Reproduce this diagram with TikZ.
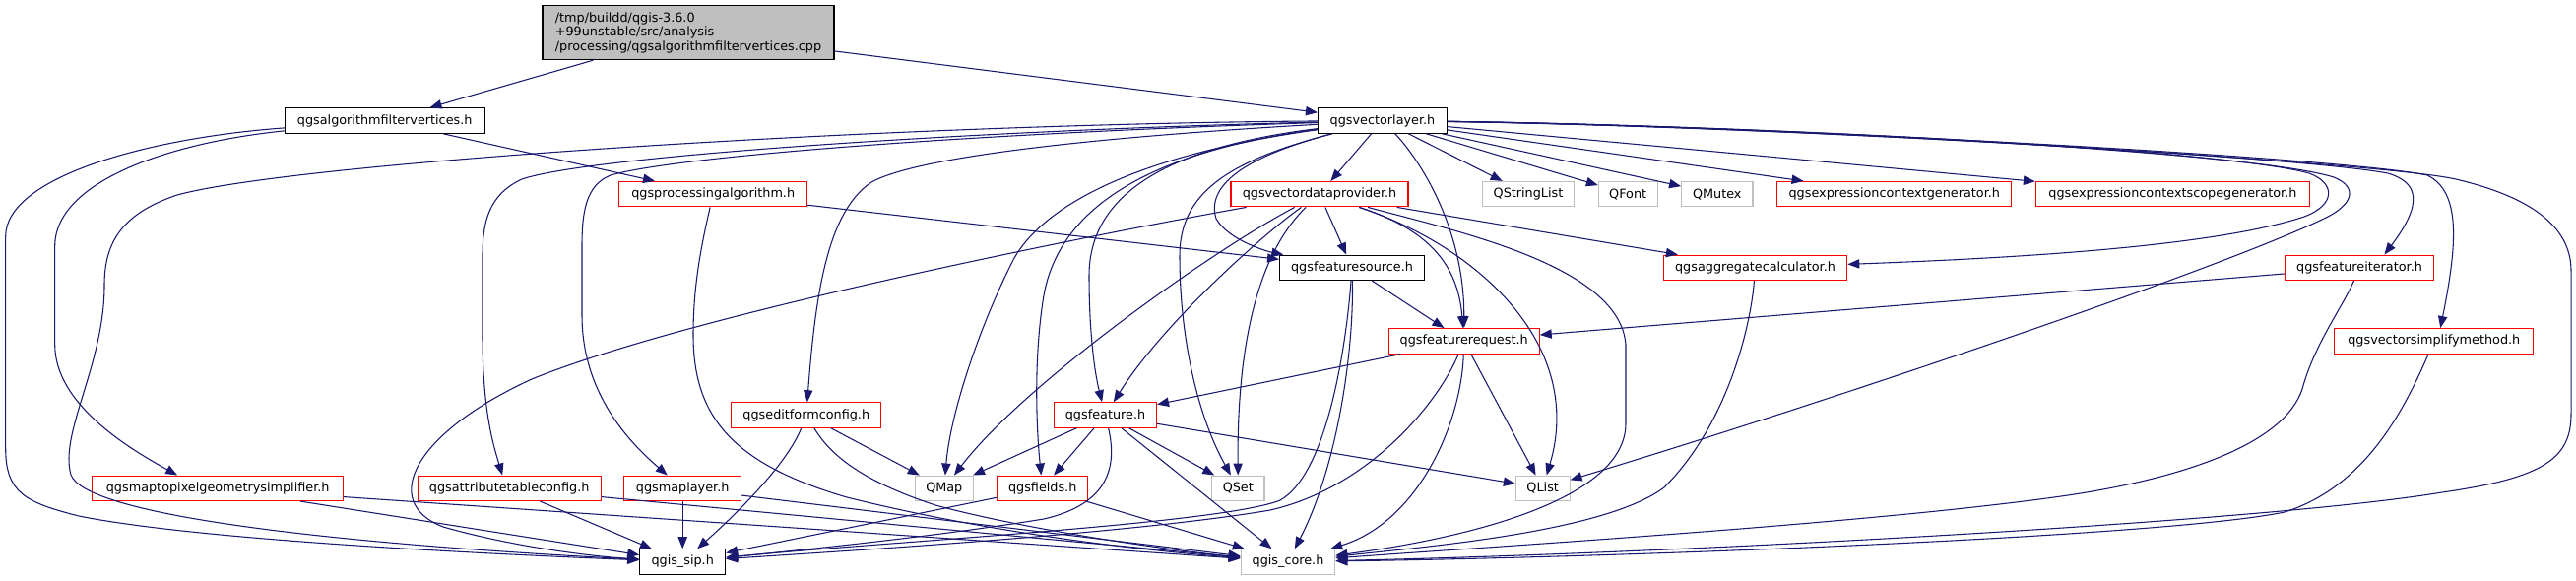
\documentclass[tikz,border=0pt]{standalone}
\usepackage{fontspec}
\setmainfont{DejaVu Sans}
\usetikzlibrary{arrows.meta,calc}
\definecolor{edgec}{HTML}{191970}
\definecolor{redb}{HTML}{FF0000}
\definecolor{greyb}{HTML}{BFBFBF}
\begin{document}
\begin{tikzpicture}[x=0.75pt,y=-0.75pt,
  box/.style={draw, line width=0.8pt, fill=white, minimum height=19.1pt, inner xsep=3pt, inner ysep=0pt, font=\fontsize{9.6}{11}\selectfont},
  docbox/.style={box, draw=black},
  redbox/.style={box, draw=redb},
  greybox/.style={box, draw=greyb},
  edge/.style={draw=edgec, line width=0.8pt, -{Triangle[length=9pt,width=7pt]}}]
\useasboundingbox (0,0) rectangle (2616,589);
\fill[white] (0,0) rectangle (2616,589);
% nodes
\node[docbox, fill=greyb, minimum width=222pt, minimum height=41.25pt, align=left] (cpp) at (699,33.2) {/tmp/buildd/qgis-3.6.0\\+99unstable/src/analysis\\/processing/qgsalgorithmfiltervertices.cpp};
\node[docbox, minimum width=152pt] (fv) at (390.7,122.5) {qgsalgorithmfiltervertices.h};
\node[docbox, minimum width=98.25pt] (vl) at (1404,122.5) {qgsvectorlayer.h};
\node[redbox, minimum width=143.25pt] (pa) at (724.2,197.2) {qgsprocessingalgorithm.h};
\node[redbox, minimum width=135pt] (vdp) at (1340,197.2) {qgsvectordataprovider.h};
\node[greybox, minimum width=69.75pt] (qsl) at (1552,197.2) {QStringList};
\node[greybox, minimum width=44.8pt] (qfont) at (1653.2,197.2) {QFont};
\node[greybox, minimum width=54.3pt] (qmutex) at (1743.8,197.2) {QMutex};
\node[redbox, minimum width=178.7pt] (ecg) at (1923.8,197.2) {qgsexpressioncontextgenerator.h};
\node[redbox, minimum width=208.5pt] (ecsg) at (2206.4,197.2) {qgsexpressioncontextscopegenerator.h};
\node[docbox, minimum width=110.25pt] (fs) at (1373,271.8) {qgsfeaturesource.h};
\node[redbox, minimum width=139.9pt] (agg) at (1782.5,271.8) {qgsaggregatecalculator.h};
\node[redbox, minimum width=113.5pt] (fit) at (2396,271.8) {qgsfeatureiterator.h};
\node[redbox, minimum width=114.75pt] (freq) at (1486.7,346.3) {qgsfeaturerequest.h};
\node[redbox, minimum width=151.3pt] (vsm) at (2471.8,346.3) {qgsvectorsimplifymethod.h};
\node[redbox, minimum width=114.2pt] (efc) at (818.8,421.5) {qgseditformconfig.h};
\node[redbox, minimum width=78pt] (feat) at (1122.5,421.5) {qgsfeature.h};
\node[redbox, minimum width=190.9pt] (m2p) at (221.2,495.8) {qgsmaptopixelgeometrysimplifier.h};
\node[redbox, minimum width=139.3pt] (atc) at (517.2,495.8) {qgsattributetableconfig.h};
\node[redbox, minimum width=89.25pt] (ml) at (693.2,495.8) {qgsmaplayer.h};
\node[greybox, minimum width=44.25pt] (qmap) at (958.8,495.8) {QMap};
\node[redbox, minimum width=69pt] (fields) at (1058.7,495.8) {qgsfields.h};
\node[greybox, minimum width=40pt] (qset) at (1257.3,495.8) {QSet};
\node[greybox, minimum width=41pt] (qlist) at (1566.7,495.8) {QList};
\node[docbox, minimum width=65.25pt] (sip) at (693.2,570.5) {qgis\_sip.h};
\node[greybox, minimum width=71.8pt] (core) at (1308,570.5) {qgis\_core.h};
% edges from cpp
\draw[edge] (cpp) -- (fv);
\draw[edge] (cpp) -- (vl);
% from filtervertices
\draw[edge] (fv) -- (pa);
\draw[edge] (fv) .. controls (150,140) and (5.7,180) .. (5.7,240) -- (5.7,455) .. controls (5.7,500) and (25,510) .. (80,524) .. controls (200,548) and (480,562) .. (sip);
\draw[edge] (fv) .. controls (170,145) and (55.7,185) .. (55.7,250) -- (55.7,350) .. controls (55.7,410) and (130,455) .. ($(m2p.north)+(-41,0)$);
% from processingalgorithm
\draw[edge] (pa) -- (fs);
\draw[edge] (pa) .. controls (712,250) and (704,290) .. (704,340) .. controls (704,420) and (740,470) .. (860,505) .. controls (1000,540) and (1150,558) .. (core);
% from vectorlayer
\draw[edge] (vl) -- (vdp);
\draw[edge] (vl) -- (qsl);
\draw[edge] (vl) -- (qfont);
\draw[edge] (vl) -- (qmutex);
\draw[edge] (vl) -- (ecg);
\draw[edge] (vl) -- (ecsg);
\draw[edge] (vl) .. controls (1750,127) and (2250,150) .. (2345,176) .. controls (2372,186) and (2372,208) .. (2340,220) .. controls (2250,250) and (2050,262) .. (agg);
\draw[edge] (vl) .. controls (1760,127) and (2280,152) .. (2370,180) .. controls (2395,190) and (2390,208) .. (2360,222) .. controls (2250,275) and (1850,410) .. (qlist);
\draw[edge] (vl) .. controls (1780,128) and (2330,158) .. (2425,176) .. controls (2455,185) and (2462,205) .. ($(fit.north)+(25.4,0)$);
\draw[edge] (vl) .. controls (1800,128) and (2380,160) .. (2465,178) .. controls (2500,195) and (2495,250) .. ($(vsm.north)+(6.5,0)$);
\draw[edge] (vl) .. controls (1820,128) and (2420,165) .. (2494,182) .. controls (2570,200) and (2611,230) .. (2611,275) -- (2611,420) .. controls (2611,465) and (2585,485) .. (2480,500) .. controls (2300,530) and (1700,562) .. (core);
\draw[edge] (vl) .. controls (1440,160) and (1487,230) .. (freq);
\draw[edge] (vl) .. controls (1260,160) and (1225,190) .. (1235,222) .. controls (1248,245) and (1290,256) .. (fs);
\draw[edge] (vl) .. controls (1240,165) and (1198,200) .. (1198,260) .. controls (1198,340) and (1215,420) .. (qset);
\draw[edge] (vl) .. controls (1150,158) and (1060,210) .. (1030,262) .. controls (995,330) and (965,420) .. (qmap);
\draw[edge] (vl) .. controls (1180,150) and (1106,200) .. (1106,280) .. controls (1106,340) and (1112,380) .. (feat);
\draw[edge] (vl) .. controls (1160,155) and (1075,215) .. (1060,300) .. controls (1050,360) and (1052,430) .. (fields);
\draw[edge] (vl) .. controls (1100,140) and (930,160) .. (885,185) .. controls (840,215) and (828,300) .. (efc);
\draw[edge] (vl) .. controls (1000,135) and (690,158) .. (620,178) .. controls (595,188) and (591,215) .. (591,250) -- (591,320) .. controls (591,400) and (640,450) .. (ml);
\draw[edge] (vl) .. controls (1000,132) and (600,158) .. (530,182) .. controls (495,198) and (490,228) .. (490,260) -- (490,340) .. controls (490,420) and (502,455) .. ($(atc.north)+(-7,0)$);
\draw[edge] (vl) .. controls (900,126) and (300,165) .. (180,198) .. controls (120,218) and (106,250) .. (106,290) .. controls (106,370) and (60,440) .. (72,482) .. controls (85,520) and (300,550) .. (sip);
% from vectordataprovider
\draw[edge] (vdp) .. controls (1100,240) and (700,320) .. (540,385) .. controls (420,440) and (385,510) .. (450,535) .. controls (520,555) and (600,565) .. (sip);
\draw[edge] (vdp) .. controls (1230,255) and (1040,390) .. (qmap);
\draw[edge] (vdp) .. controls (1280,240) and (1180,330) .. (feat);
\draw[edge] (vdp) .. controls (1285,250) and (1256,330) .. (qset);
\draw[edge] (vdp) -- (fs);
\draw[edge] (vdp) .. controls (1440,230) and (1480,260) .. (freq);
\draw[edge] (vdp) .. controls (1500,250) and (1610,350) .. (qlist);
\draw[edge] (vdp) .. controls (1480,235) and (1645,270) .. (1651,350) -- (1651,430) .. controls (1651,505) and (1500,545) .. (core);
\draw[edge] (vdp) -- (agg);
% from featuresource
\draw[edge] (fs) -- (freq);
\draw[edge] (fs) .. controls (1368,340) and (1350,480) .. (1300,508) .. controls (1240,532) and (900,550) .. (sip);
\draw[edge] (fs) .. controls (1375,350) and (1360,470) .. (core);
% from aggregatecalculator, featureiterator, simplifymethod
\draw[edge] (agg) .. controls (1778,330) and (1755,430) .. (1690,495) .. controls (1630,540) and (1450,555) .. (core);
\draw[edge] (fit) -- (freq);
\draw[edge] (fit) .. controls (2380,310) and (2350,350) .. (2338,395) .. controls (2320,450) and (2220,485) .. (2100,503) .. controls (1900,532) and (1500,556) .. (core);
\draw[edge] (vsm) .. controls (2440,420) and (2400,495) .. (2320,520) .. controls (2200,545) and (1650,566) .. (core);
% from featurerequest
\draw[edge] (freq) -- (feat);
\draw[edge] (freq) -- (qlist);
\draw[edge] (freq) .. controls (1484,430) and (1440,530) .. (core);
\draw[edge] (freq) .. controls (1460,410) and (1390,495) .. (1290,518) .. controls (1150,542) and (850,560) .. (sip);
% from feature
\draw[edge] (feat) -- (qmap);
\draw[edge] (feat) -- (fields);
\draw[edge] (feat) -- (qset);
\draw[edge] (feat) -- (qlist);
\draw[edge] (feat) -- (core);
\draw[edge] (feat) .. controls (1135,475) and (1125,512) .. (1060,527) .. controls (950,545) and (800,560) .. (sip);
% from fields
\draw[edge] (fields) -- (sip);
\draw[edge] (fields) -- (core);
% from editformconfig
\draw[edge] (efc) .. controls (800,470) and (750,520) .. (sip);
\draw[edge] (efc) -- (qmap);
\draw[edge] (efc) .. controls (845,465) and (880,490) .. (950,513) .. controls (1050,540) and (1200,560) .. (core);
% from maplayer, attributetableconfig, maptopixel
\draw[edge] (ml) -- (sip);
\draw[edge] (ml) -- (core);
\draw[edge] (atc) -- (sip);
\draw[edge] (atc) -- (core);
\draw[edge] (m2p) -- (sip);
\draw[edge] (m2p) -- (core);
\end{tikzpicture}
\end{document}
